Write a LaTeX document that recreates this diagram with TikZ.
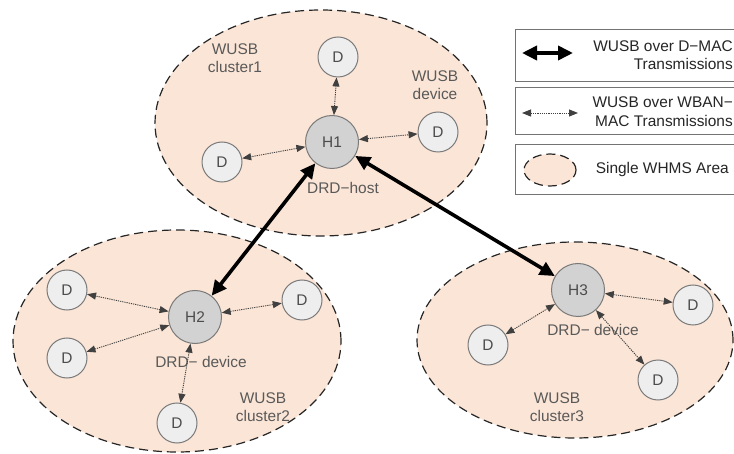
\documentclass[tikz,border=0pt]{standalone}
\usepackage{fontspec}
\setmainfont{Liberation Sans}
\usetikzlibrary{arrows.meta}
\definecolor{peach}{HTML}{FBE5D6}
\definecolor{hfill}{HTML}{D2D2D2}
\definecolor{dfill}{HTML}{EEEEEE}
\definecolor{nborder}{HTML}{7A7A7A}
\definecolor{txtgray}{HTML}{595959}
\tikzset{
  area/.style={fill=peach},
  areaborder/.style={draw=black!85, dash pattern=on 9bp off 5bp, line width=1.2bp},
  hnode/.style={circle, draw=nborder, line width=1bp, fill=hfill, minimum size=53bp, inner sep=0pt, font=\fontsize{15.5}{17}\selectfont, text=black!70},
  dnode/.style={circle, draw=nborder, line width=1bp, fill=dfill, minimum size=40bp, inner sep=0pt, font=\fontsize{15.5}{17}\selectfont, text=black!70},
  thickarr/.style={line width=3.6bp, {Triangle[length=15bp,width=14bp]}-{Triangle[length=15bp,width=14bp]}},
  dotarr/.style={line width=0.9bp, draw=black!75, dash pattern=on 1.2bp off 1bp, {Triangle[length=9bp,width=7bp]}-{Triangle[length=9bp,width=7bp]}},
  lbl/.style={text=txtgray, font=\fontsize{15.5}{17.5}\selectfont, align=center, inner sep=0pt},
  legbox/.style={draw=black!55, line width=1bp, fill=white},
  legtext/.style={text=black!85, font=\fontsize{15.5}{17}\selectfont, align=right, inner sep=0pt, anchor=east}
}
\begin{document}
\begin{tikzpicture}[x=1bp,y=-1bp]
\useasboundingbox (0,0) rectangle (734,454);
\clip (0,0) rectangle (734,454);
% areas
\path[area] (321,123) ellipse [x radius=166bp, y radius=113bp];
\path[area] (177,341) ellipse [x radius=164bp, y radius=111bp];
\path[area] (575,340) ellipse [x radius=158bp, y radius=98bp];
\path[areaborder] (321,123) ellipse [x radius=166bp, y radius=113bp];
\path[areaborder] (177,341) ellipse [x radius=164bp, y radius=111bp];
\path[areaborder] (575,340) ellipse [x radius=158bp, y radius=98bp];
% labels
\node[lbl] (l1) at (235,58) {WUSB\\cluster1};
\node[lbl] (l2) at (435,85) {WUSB\\device};
\node[lbl] (l3) at (343,188) {DRD−host};
\node[lbl] (l4) at (201,362) {DRD− device};
\node[lbl] (l5) at (263,407) {WUSB\\cluster2};
\node[lbl] (l6) at (593,330) {DRD− device};
\node[lbl] (l7) at (557,407) {WUSB\\cluster3};
% nodes
\node[hnode] (h1) at (332,142) {H1};
\node[hnode] (h2) at (195,317) {H2};
\node[hnode] (h3) at (578,290) {H3};
\node[dnode] (d11) at (338,57) {D};
\node[dnode] (d12) at (222,162) {D};
\node[dnode] (d13) at (438,132) {D};
\node[dnode] (d21) at (67,290) {D};
\node[dnode] (d22) at (67,358) {D};
\node[dnode] (d23) at (302,300) {D};
\node[dnode] (d24) at (177,423) {D};
\node[dnode] (d31) at (488,345) {D};
\node[dnode] (d32) at (693,305) {D};
\node[dnode] (d33) at (658,380) {D};
% connectors
\draw[dotarr] (h1) -- (d11);
\draw[dotarr] (h1) -- (d12);
\draw[dotarr] (h1) -- (d13);
\draw[dotarr] (h2) -- (d21);
\draw[dotarr] (h2) -- (d22);
\draw[dotarr] (h2) -- (d23);
\draw[dotarr] (h2) -- (d24);
\draw[dotarr] (h3) -- (d31);
\draw[dotarr] (h3) -- (d32);
\draw[dotarr] (h3) -- (d33);
\draw[thickarr] (h1) -- (h2);
\draw[thickarr] (h1) -- (h3);
% legend
\draw[legbox] (515,30) rectangle (745,82);
\draw[legbox] (515,88) rectangle (745,135);
\draw[legbox] (515,145) rectangle (745,195);
\coordinate (a1) at (522,53);
\coordinate (b1) at (573,53);
\draw[thickarr] (a1) -- (b1);
\coordinate (a2) at (522,113);
\coordinate (b2) at (578,113);
\draw[dotarr] (a2) -- (b2);
\path[fill=peach, areaborder] (550,170) ellipse [x radius=26bp, y radius=16bp];
\node[legtext] (t1) at (733,46) {WUSB over D−MAC};
\node[legtext] (t2) at (733,64) {Transmissions};
\node[legtext] (t3) at (733,102) {WUSB over WBAN−};
\node[legtext] (t4) at (733,121) {MAC Transmissions};
\node[legtext] (t5) at (729,170) {Single WHMS Area};
\end{tikzpicture}
\end{document}
